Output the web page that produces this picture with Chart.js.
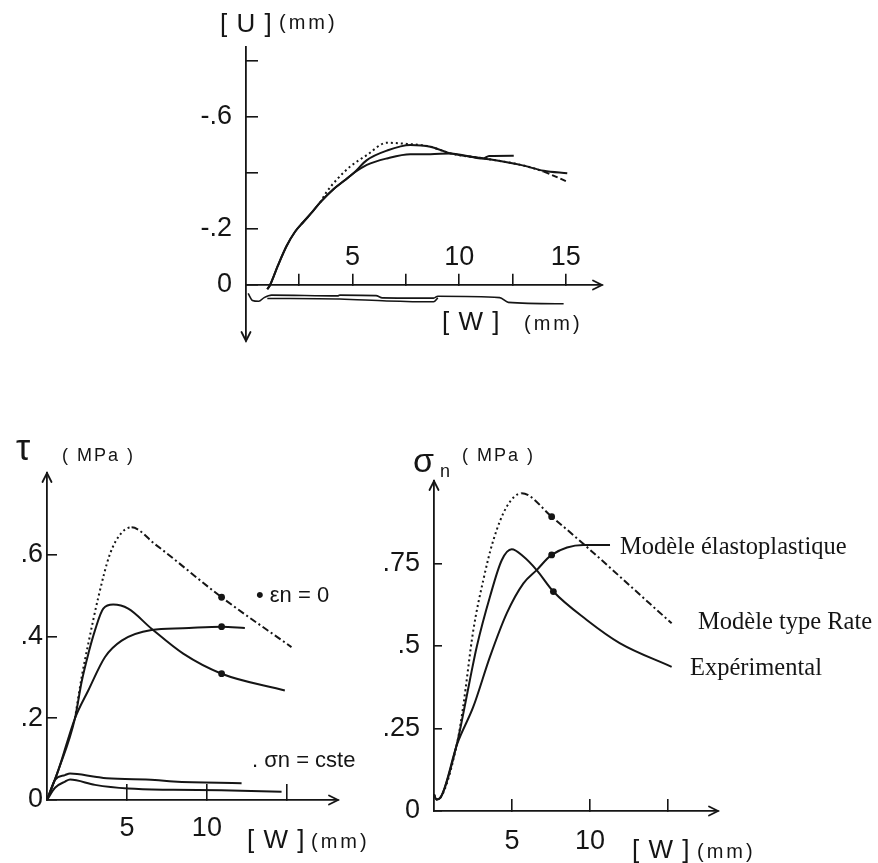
<!DOCTYPE html>
<html><head><meta charset="utf-8">
<script src="https://cdn.jsdelivr.net/npm/chart.js@4.4.1/dist/chart.umd.min.js"></script>
<style>
html,body{margin:0;padding:0;background:#fff;}
body{width:878px;height:863px;position:relative;overflow:hidden;}
.cv{position:absolute;}
.t{position:absolute;white-space:nowrap;color:#151515;font-family:'Liberation Sans',Arial,sans-serif;line-height:1;}
.n{font-family:'Liberation Sans Narrow','Liberation Sans',Arial,sans-serif;}
.s{font-family:'Liberation Serif','Times New Roman',serif;}
</style></head><body>
<canvas id="c1" class="cv" width="480" height="330" style="left:150px;top:30px"></canvas>
<canvas id="c2" class="cv" width="380" height="433" style="left:0px;top:430px"></canvas>
<canvas id="c3" class="cv" width="498" height="433" style="left:380px;top:430px"></canvas>

<!-- top chart texts -->
<div class="t" style="left:220px;top:10px;font-size:26px;letter-spacing:1px">[ U ]</div>
<div class="t" style="left:279px;top:12px;font-size:20px;letter-spacing:3px">(mm)</div>
<div class="t" style="left:442px;top:308px;font-size:26px;letter-spacing:1px">[ W ]</div>
<div class="t" style="left:524px;top:313px;font-size:20px;letter-spacing:3px">(mm)</div>

<!-- bottom-left texts -->
<div class="t" style="left:16px;top:430px;font-size:36px">τ</div>
<div class="t" style="left:62px;top:446px;font-size:18px;letter-spacing:2px">( MPa )</div>
<div class="t n" style="left:256px;top:584px;font-size:22px">• εn = 0</div>
<div class="t n" style="left:252px;top:749px;font-size:22px">. σn = cste</div>
<div class="t" style="left:247px;top:826px;font-size:26px;letter-spacing:1px">[ W ]</div>
<div class="t" style="left:311px;top:831px;font-size:20px;letter-spacing:3px">(mm)</div>

<!-- bottom-right texts -->
<div class="t" style="left:413px;top:443px;font-size:34px">σ</div>
<div class="t" style="left:440px;top:462px;font-size:18px">n</div>
<div class="t" style="left:462px;top:446px;font-size:18px;letter-spacing:2px">( MPa )</div>
<div class="t" style="left:632px;top:836px;font-size:26px;letter-spacing:1px">[ W ]</div>
<div class="t" style="left:697px;top:841px;font-size:20px;letter-spacing:3px">(mm)</div>
<div class="t s" style="left:620px;top:534px;font-size:24.5px">Modèle élastoplastique</div>
<div class="t s" style="left:698px;top:609px;font-size:24.5px">Modèle type Rate</div>
<div class="t s" style="left:690px;top:655px;font-size:24.5px">Expérimental</div>

<script>
// ===================== DATA =====================
// Top chart: [U] (mm, negative upward) versus [W] (mm)
const topExpW  = [1.0, 1.13, 1.5, 1.91, 2.3, 2.69, 3.1, 3.48, 4.1, 4.6, 5.04, 5.67, 6.61, 7.71, 8.65, 9.59, 11.15, 12.88, 13.97, 15.07];
const topExpU  = [0.015, 0, -0.07, -0.14, -0.19, -0.225, -0.26, -0.295, -0.342, -0.372, -0.399, -0.446, -0.48, -0.5, -0.494, -0.47, -0.452, -0.429, -0.408, -0.399];
const topElaW  = [1.0, 1.13, 1.5, 1.91, 2.3, 2.69, 3.1, 3.48, 4.1, 4.6, 5.04, 5.67, 6.61, 7.71, 8.65, 9.59, 11.15, 11.4, 12.56];
const topElaU  = [0.015, 0, -0.07, -0.14, -0.19, -0.225, -0.26, -0.295, -0.342, -0.372, -0.399, -0.429, -0.452, -0.467, -0.467, -0.47, -0.452, -0.461, -0.462];
const topRateW = [3.48, 3.79, 4.3, 4.89, 5.67, 6.61, 7.55, 8.2, 8.65, 9.59, 11.15, 12.88, 13.97, 14.5, 15.07];
const topRateU = [-0.295, -0.333, -0.38, -0.423, -0.464, -0.508, -0.504, -0.5, -0.494, -0.47, -0.452, -0.429, -0.405, -0.388, -0.369];
const topLowAW = [0.1, 0.3, 0.6, 0.85, 1.2, 4.3, 4.4, 6.1, 6.4, 8.8, 9.0, 11.9, 12.3, 14.9];
const topLowAU = [0.03, 0.055, 0.058, 0.045, 0.036, 0.039, 0.036, 0.038, 0.046, 0.047, 0.04, 0.045, 0.062, 0.067];
const topLowBW = [1.0, 4.4, 6.6, 8.8, 9.0];
const topLowBU = [0.048, 0.05, 0.057, 0.06, 0.046];
const topXTicks  = [2.5, 5, 7.5, 10, 12.5, 15];
const topXLabels = ['', '5', '', '10', '', '15'];
const topYTicks  = [0, -0.2, -0.4, -0.6, -0.8];
const topYLabels = ['0', '-.2', '', '-.6', ''];

// Bottom-left chart: tau (MPa) versus [W] (mm)
const leftExpW    = [0, 0.71, 1.75, 2.17, 2.6, 3.0, 3.52, 4.14, 5.08, 6.54, 8.52, 10.92, 14.875];
const leftExpTau  = [0, 0.073, 0.2, 0.29, 0.36, 0.415, 0.468, 0.478, 0.468, 0.419, 0.358, 0.309, 0.268];
const leftElaW    = [0, 0.71, 1.75, 2.58, 3.63, 4.67, 6.54, 8.5, 10.92, 12.375];
const leftElaTau  = [0, 0.073, 0.2, 0.268, 0.35, 0.39, 0.416, 0.42, 0.424, 0.421];
const leftRateW   = [1.75, 2.17, 2.58, 3.21, 3.94, 4.67, 5.29, 6.75, 10.92, 15.29];
const leftRateTau = [0.2, 0.301, 0.382, 0.496, 0.602, 0.654, 0.667, 0.626, 0.496, 0.374];
const leftCsteAW   = [0, 0.5, 1.13, 1.44, 3.0, 3.73, 6.75, 7.9, 12.17];
const leftCsteATau = [0, 0.049, 0.061, 0.065, 0.057, 0.053, 0.049, 0.045, 0.041];
const leftCsteBW   = [0, 0.5, 1.13, 1.44, 3.0, 5.08, 7.9, 10.9, 14.67];
const leftCsteBTau = [0, 0.03, 0.045, 0.05, 0.037, 0.028, 0.025, 0.024, 0.02];
const leftMarks  = [10.92];
const leftXTicks  = [5, 10, 15];
const leftXLabels = ['5', '10', ''];
const leftYTicks  = [0, 0.2, 0.4, 0.6];
const leftYLabels = ['0', '.2', '.4', '.6'];

// Bottom-right chart: sigma_n (MPa) versus [W] (mm)
const rightRateW   = [0, 0.15, 0.4, 1.5, 1.85, 2.52, 3.16, 3.8, 4.66, 5.62, 7.54, 15.23];
const rightRateSig = [0.05, 0.035, 0.04, 0.21, 0.31, 0.548, 0.70, 0.82, 0.922, 0.963, 0.892, 0.569];
const rightExpW    = [0, 0.15, 0.4, 1.5, 1.88, 2.3, 2.74, 3.59, 4.34, 4.98, 5.73, 6.58, 7.65, 9.79, 11.9, 15.23];
const rightExpSig  = [0.05, 0.035, 0.04, 0.21, 0.296, 0.397, 0.498, 0.65, 0.76, 0.793, 0.771, 0.73, 0.665, 0.579, 0.509, 0.437];
const rightElaW    = [0, 0.15, 0.4, 1.5, 2.52, 3.59, 4.66, 5.73, 6.58, 7.54, 9.57, 11.28];
const rightElaSig  = [0.05, 0.035, 0.04, 0.205, 0.316, 0.468, 0.599, 0.69, 0.73, 0.776, 0.806, 0.806];
const rightRateMarks = [7.54];
const rightExpMarks  = [7.65];
const rightElaMarks  = [7.54];
const rightXTicks  = [5, 10, 15];
const rightXLabels = ['5', '10', ''];
const rightYTicks  = [0, 0.25, 0.5, 0.75];
const rightYLabels = ['0', '.25', '.5', '.75'];

// ===================== DRAWING =====================
const INK = '#151515';
const TICK_FONT = {family: "'Liberation Sans Narrow','Liberation Sans',Arial,sans-serif", size: 27};
const pts = (xs, ys) => xs.map((x, i) => ({x: x, y: ys[i]}));

function line(xs, ys, marks, width) {
  const m = marks || [];
  return {
    data: pts(xs, ys), borderColor: INK, borderWidth: width || 2,
    pointRadius: c => (c.raw && m.includes(c.raw.x)) ? 3.4 : 0,
    pointBackgroundColor: INK, pointBorderWidth: 0, pointHoverRadius: 0,
    cubicInterpolationMode: 'monotone', fill: false, clip: false
  };
}
function rateLine(xs, ys, marks, breakW, tailDash) {
  const d = line(xs, ys, marks, 2);
  d.segment = {borderDash: c => (c.p0.parsed.x >= breakW ? tailDash : [2, 3])};
  return d;
}
function scale(o) {
  return {
    type: 'linear', min: o.min, max: o.max, reverse: !!o.reverse,
    position: o.position,
    afterFit: s => {
      if (o.w !== undefined) s.width = o.w;
      if (o.h !== undefined) s.height = o.h;
      s.paddingTop = 0; s.paddingBottom = 0; s.paddingLeft = 0; s.paddingRight = 0;
    },
    afterBuildTicks: s => { s.ticks = o.ticks.map(v => ({value: v})); },
    ticks: {autoSkip: false, maxRotation: 0, minRotation: 0, mirror: !!o.mirror, padding: o.pad,
            color: INK, font: TICK_FONT, callback: (v, i) => o.labels[i]},
    grid: {display: true, drawOnChartArea: false, drawTicks: true, tickLength: o.tl, color: INK, lineWidth: 1.6},
    border: {display: true, color: INK, width: 1.8}
  };
}
const arrowPlugin = {
  id: 'axisArrows',
  afterDraw(chart, args, opts) {
    const ctx = chart.ctx, xs = chart.scales.x, ys = chart.scales.y;
    ctx.save(); ctx.strokeStyle = INK; ctx.lineWidth = 1.8; ctx.lineCap = 'round';
    (opts.arrows || []).forEach(a => {
      const px = xs.getPixelForValue(a.x), py = ys.getPixelForValue(a.y);
      const d = {right: [1, 0], up: [0, -1], down: [0, 1]}[a.dir];
      const L = 9, H = 4.5;
      ctx.beginPath();
      ctx.moveTo(px - d[0] * L + d[1] * H, py - d[1] * L + d[0] * H);
      ctx.lineTo(px, py);
      ctx.lineTo(px - d[0] * L - d[1] * H, py - d[1] * L - d[0] * H);
      ctx.stroke();
    });
    ctx.restore();
  }
};
function baseOptions(pad, xs, ys, arrows) {
  return {
    responsive: false, animation: false, events: [],
    layout: {padding: pad},
    plugins: {legend: {display: false}, tooltip: {enabled: false}, axisArrows: {arrows: arrows}},
    scales: {x: xs, y: ys}
  };
}

// Top chart
new Chart(document.getElementById('c1'), {
  type: 'line',
  data: {datasets: [
    line(topExpW, topExpU),
    line(topElaW, topElaU),
    rateLine(topRateW, topRateU, [], 13.97, [6, 3]),
    line(topLowAW, topLowAU, [], 1.6),
    line(topLowBW, topLowBU, [], 1.6)
  ]},
  options: baseOptions({left: 0, right: 28, top: 17, bottom: 19},
    scale({min: 0, max: 16.7, position: {y: 0}, h: 0, ticks: topXTicks, labels: topXLabels, tl: -12, pad: 1, mirror: true}),
    scale({min: -0.85, max: 0.2, reverse: true, position: 'left', w: 96, ticks: topYTicks, labels: topYLabels, tl: -12, pad: 26}),
    [{x: 16.7, y: 0, dir: 'right'}, {x: 0, y: 0.2, dir: 'down'}]),
  plugins: [arrowPlugin]
});

// Bottom-left chart
new Chart(document.getElementById('c2'), {
  type: 'line',
  data: {datasets: [
    line(leftExpW, leftExpTau, leftMarks),
    line(leftElaW, leftElaTau, leftMarks),
    rateLine(leftRateW, leftRateTau, leftMarks, 5.29, [7, 3, 2, 3]),
    line(leftCsteAW, leftCsteATau),
    line(leftCsteBW, leftCsteBTau)
  ]},
  options: baseOptions({left: 0, right: 42, top: 43, bottom: 0},
    scale({min: 0, max: 18.2, position: 'bottom', h: 63, ticks: leftXTicks, labels: leftXLabels, tl: -16, pad: 28}),
    scale({min: 0, max: 0.8, position: 'left', w: 47, ticks: leftYTicks, labels: leftYLabels, tl: -10, pad: 14}),
    [{x: 18.2, y: 0, dir: 'right'}, {x: 0, y: 0.8, dir: 'up'}]),
  plugins: [arrowPlugin]
});

// Bottom-right chart
new Chart(document.getElementById('c3'), {
  type: 'line',
  data: {datasets: [
    line(rightExpW, rightExpSig, rightExpMarks),
    line(rightElaW, rightElaSig, rightElaMarks),
    rateLine(rightRateW, rightRateSig, rightRateMarks, 5.62, [7, 3, 2, 3])
  ]},
  options: baseOptions({left: 0, right: 160, top: 51, bottom: 0},
    scale({min: 0, max: 18.2, position: 'bottom', h: 52, ticks: rightXTicks, labels: rightXLabels, tl: -12, pad: 26}),
    scale({min: 0, max: 1.0, position: 'left', w: 54, ticks: rightYTicks, labels: rightYLabels, tl: -8, pad: 22}),
    [{x: 18.2, y: 0, dir: 'right'}, {x: 0, y: 1.0, dir: 'up'}]),
  plugins: [arrowPlugin]
});
</script>
</body></html>
